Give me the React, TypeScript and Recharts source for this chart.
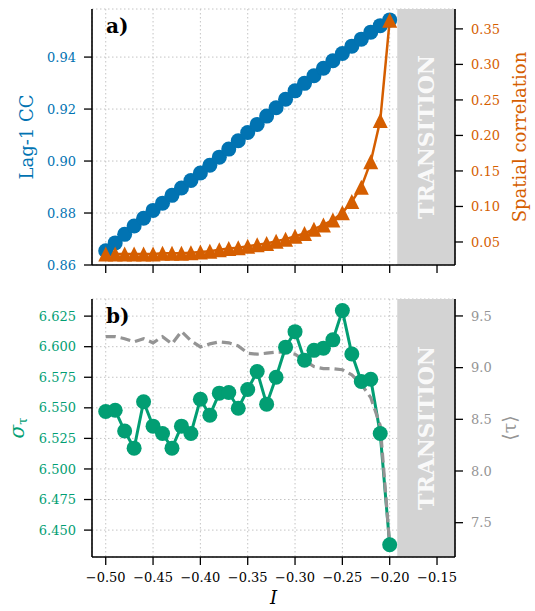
import React from "react";
import { ComposedChart, Line, XAxis, YAxis, CartesianGrid, ReferenceArea } from "recharts";

// control parameter I, one point per 0.01
const I_VALUES = [
  -0.5, -0.49, -0.48, -0.47, -0.46, -0.45, -0.44, -0.43, -0.42, -0.41, -0.4,
  -0.39, -0.38, -0.37, -0.36, -0.35, -0.34, -0.33, -0.32, -0.31, -0.3,
  -0.29, -0.28, -0.27, -0.26, -0.25, -0.24, -0.23, -0.22, -0.21, -0.2,
];

// panel a)
const LAG1_CC = [
  0.8655, 0.8685, 0.8718, 0.875, 0.878, 0.881, 0.8838, 0.8868, 0.8896, 0.8925, 0.8954,
  0.8984, 0.9015, 0.9046, 0.9078, 0.911, 0.9141, 0.9173, 0.9205, 0.9238, 0.927,
  0.9299, 0.9328, 0.9357, 0.9386, 0.9414, 0.9442, 0.9469, 0.9496, 0.9521, 0.9543,
];
const SPATIAL_CORR = [
  0.033, 0.033, 0.033, 0.033, 0.033, 0.033, 0.034, 0.034, 0.034, 0.035, 0.036,
  0.037, 0.039, 0.041, 0.042, 0.044, 0.046, 0.048, 0.051, 0.054, 0.058,
  0.062, 0.068, 0.074, 0.081, 0.091, 0.107, 0.127, 0.163, 0.221, 0.362,
];

// panel b)
const SIGMA_TAU = [
  6.547, 6.548, 6.531, 6.517, 6.555, 6.535, 6.529, 6.517, 6.535, 6.529, 6.557,
  6.544, 6.562, 6.5625, 6.5497, 6.565, 6.5797, 6.553, 6.575, 6.5996, 6.6123,
  6.589, 6.597, 6.5988, 6.6056, 6.6295, 6.594, 6.5715, 6.5734, 6.529, 6.438,
];
const MEAN_TAU = [
  9.3, 9.3, 9.28, 9.25, 9.28, 9.24, 9.3, 9.23, 9.35, 9.26, 9.2,
  9.23, 9.25, 9.24, 9.21, 9.14, 9.13, 9.14, 9.15, 9.15, 9.13,
  9.07, 9.01, 8.99, 8.99, 8.98, 8.93, 8.84, 8.71, 8.44, 7.29,
];

const X_TICKS = [-0.5, -0.45, -0.4, -0.35, -0.3, -0.25, -0.2, -0.15];
const LAG_TICKS = [0.86, 0.88, 0.9, 0.92, 0.94];
const SPATIAL_TICKS = [0.05, 0.1, 0.15, 0.2, 0.25, 0.3, 0.35];
const SIGMA_TICKS = [6.45, 6.475, 6.5, 6.525, 6.55, 6.575, 6.6, 6.625];
const TAU_TICKS = [7.5, 8, 8.5, 9, 9.5];

const TRANSITION_START = -0.192;
const X_DOMAIN: [number, number] = [-0.5145, -0.131];

const BLUE = "#0173b2";
const ORANGE = "#d55e00";
const GREEN = "#029e73";
const GRAY = "#949494";
const SERIF = "'DejaVu Serif', serif";
const TICK_FS = 13;

const topData = I_VALUES.map((x, i) => ({ x, lag: LAG1_CC[i], spatial: SPATIAL_CORR[i] }));
const bottomData = I_VALUES.map((x, i) => ({ x, sigma: SIGMA_TAU[i], tau: MEAN_TAU[i] }));

const minus = (s: string) => s.replace("-", "\u2212");

const axisTitle = (content: React.ReactNode, color: string, dx: number, fs = 18) => (props: any) => {
  const vb = props.viewBox;
  const x = vb.x + dx;
  const y = vb.y + vb.height / 2;
  return (
    <text
      x={x}
      y={y}
      transform={`rotate(-90 ${x} ${y})`}
      textAnchor="middle"
      dominantBaseline="central"
      fill={color}
      fontSize={fs}
      fontFamily={SERIF}
    >
      {content}
    </text>
  );
};

const transitionLabel = (props: any) => {
  const vb = props.viewBox;
  const x = vb.x + vb.width / 2;
  const y = vb.y + vb.height / 2;
  return (
    <text
      x={x}
      y={y}
      transform={`rotate(-90 ${x} ${y})`}
      textAnchor="middle"
      dominantBaseline="central"
      fill="#ffffff"
      fillOpacity={0.9}
      fontSize={22}
      fontWeight="bold"
      fontFamily={SERIF}
    >
      TRANSITION
    </text>
  );
};

const Triangle = (props: any) => {
  const { cx, cy, index } = props;
  if (cx == null || cy == null) return <g key={`t-${index}`} />;
  const s = 7.5;
  return (
    <polygon
      key={`t-${index}`}
      points={`${cx},${cy - s} ${cx - s},${cy + s} ${cx + s},${cy + s}`}
      fill={ORANGE}
    />
  );
};

const axisCommon = {
  tickSize: 8,
  tickMargin: 8,
  tickLine: { stroke: "#000", strokeWidth: 1.3 },
  axisLine: { stroke: "#000", strokeWidth: 1.6 },
};

function PanelLetter({ text }: { text: string }) {
  return (
    <div
      style={{
        position: "absolute",
        left: 106,
        top: 14,
        fontFamily: SERIF,
        fontWeight: "bold",
        fontSize: 20,
        color: "#000",
      }}
    >
      {text}
    </div>
  );
}

export default function App() {
  return (
    <div style={{ position: "absolute", left: 0, top: 0, width: 535, height: 611, background: "#fff" }}>
      <div style={{ position: "absolute", left: 0, top: 0 }}>
        <ComposedChart width={535} height={290} data={topData} margin={{ top: 9, right: 0, bottom: 0, left: 0 }}>
          <CartesianGrid yAxisId="left" stroke="#c4c4c4" strokeDasharray="1.5 2.5" />
          <ReferenceArea
            yAxisId="left"
            x1={TRANSITION_START}
            x2={X_DOMAIN[1]}
            fill="#d3d3d3"
            fillOpacity={1}
            stroke="none"
            label={transitionLabel}
          />
          <XAxis
            dataKey="x"
            type="number"
            domain={X_DOMAIN}
            ticks={X_TICKS}
            allowDataOverflow
            height={25}
            tickFormatter={() => ""}
            {...axisCommon}
          />
          <XAxis
            xAxisId="top"
            orientation="top"
            type="number"
            domain={X_DOMAIN}
            allowDataOverflow
            height={0}
            tick={false}
            tickLine={false}
            axisLine={{ stroke: "#000", strokeWidth: 1.6 }}
          />
          <YAxis
            yAxisId="left"
            type="number"
            domain={[0.86, 0.9585]}
            ticks={LAG_TICKS}
            allowDataOverflow
            width={92}
            tickFormatter={(v: number) => v.toFixed(2)}
            tick={{ fill: BLUE, fontSize: TICK_FS, fontFamily: SERIF }}
            label={axisTitle("Lag-1 CC", BLUE, 26)}
            {...axisCommon}
          />
          <YAxis
            yAxisId="right"
            orientation="right"
            type="number"
            domain={[0.0176, 0.378]}
            ticks={SPATIAL_TICKS}
            allowDataOverflow
            width={80}
            tickFormatter={(v: number) => v.toFixed(2)}
            tick={{ fill: ORANGE, fontSize: TICK_FS, fontFamily: SERIF }}
            label={axisTitle("Spatial correlation", ORANGE, 64)}
            {...axisCommon}
          />
          <Line
            yAxisId="left"
            dataKey="lag"
            stroke={BLUE}
            strokeWidth={2}
            dot={{ r: 7.5, fill: BLUE, stroke: "none" }}
            isAnimationActive={false}
          />
          <Line
            yAxisId="right"
            dataKey="spatial"
            stroke={ORANGE}
            strokeWidth={2.5}
            dot={Triangle}
            isAnimationActive={false}
          />
        </ComposedChart>
        <PanelLetter text="a)" />
      </div>

      <div style={{ position: "absolute", left: 0, top: 290 }}>
        <ComposedChart width={535} height={321} data={bottomData} margin={{ top: 9, right: 0, bottom: 0, left: 0 }}>
          <CartesianGrid yAxisId="left" stroke="#c4c4c4" strokeDasharray="1.5 2.5" />
          <ReferenceArea
            yAxisId="left"
            x1={TRANSITION_START}
            x2={X_DOMAIN[1]}
            fill="#d3d3d3"
            fillOpacity={1}
            stroke="none"
            label={transitionLabel}
          />
          <XAxis
            dataKey="x"
            type="number"
            domain={X_DOMAIN}
            ticks={X_TICKS}
            allowDataOverflow
            height={54}
            tickFormatter={(v: number) => minus(v.toFixed(2))}
            tick={{ fill: "#000", fontSize: TICK_FS, fontFamily: SERIF }}
            label={{
              value: "I",
              position: "insideBottom",
              offset: 7,
              fill: "#000",
              fontSize: 18,
              fontStyle: "italic",
              fontFamily: SERIF,
            }}
            {...axisCommon}
          />
          <XAxis
            xAxisId="top"
            orientation="top"
            type="number"
            domain={X_DOMAIN}
            allowDataOverflow
            height={0}
            tick={false}
            tickLine={false}
            axisLine={{ stroke: "#000", strokeWidth: 1.6 }}
          />
          <YAxis
            yAxisId="left"
            type="number"
            domain={[6.428, 6.639]}
            ticks={SIGMA_TICKS}
            allowDataOverflow
            width={92}
            tickFormatter={(v: number) => v.toFixed(3)}
            tick={{ fill: GREEN, fontSize: TICK_FS, fontFamily: SERIF }}
            label={axisTitle(
              <>
                <tspan fontStyle="italic">σ</tspan>
                <tspan fontSize={13} dy={5}>τ</tspan>
              </>,
              GREEN,
              17,
              20
            )}
            {...axisCommon}
          />
          <YAxis
            yAxisId="right"
            orientation="right"
            type="number"
            domain={[7.168, 9.664]}
            ticks={TAU_TICKS}
            allowDataOverflow
            width={80}
            tickFormatter={(v: number) => v.toFixed(1)}
            tick={{ fill: GRAY, fontSize: TICK_FS, fontFamily: SERIF }}
            label={axisTitle("⟨τ⟩", GRAY, 54, 19)}
            {...axisCommon}
          />
          <Line
            yAxisId="left"
            dataKey="sigma"
            stroke={GREEN}
            strokeWidth={3}
            dot={{ r: 7.5, fill: GREEN, stroke: "none" }}
            isAnimationActive={false}
          />
          <Line
            yAxisId="right"
            dataKey="tau"
            stroke={GRAY}
            strokeWidth={3.2}
            strokeDasharray="10 5"
            dot={false}
            isAnimationActive={false}
          />
        </ComposedChart>
        <PanelLetter text="b)" />
      </div>
    </div>
  );
}
